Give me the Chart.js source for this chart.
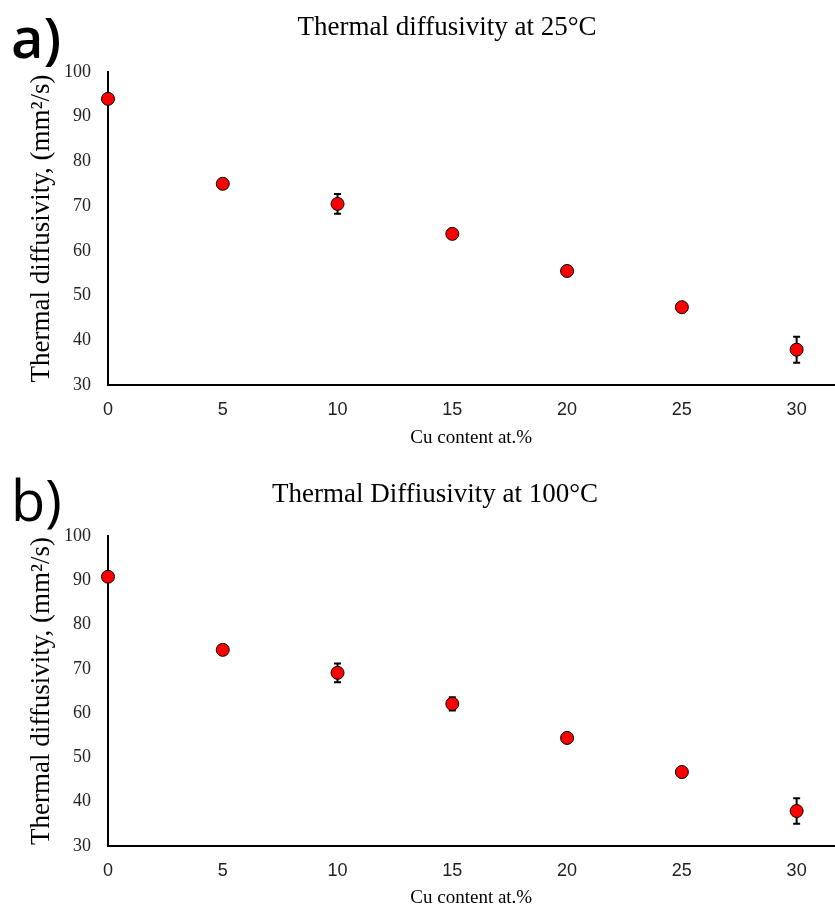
<!DOCTYPE html>
<html lang="en">
<head>
    <meta charset="UTF-8">
    <title>Thermal diffusivity</title>
    <style>
        body { margin: 0; background: #fff; }
        #wrap { position: relative; width: 835px; height: 910px; overflow: hidden; }
        canvas { position: absolute; left: 0; }
        .panel {
            position: absolute;
            left: 11px;
            font-family: "Open Sans", sans-serif;
            font-size: 56px;
            line-height: 1;
            color: #000;
        }
        .title {
            position: absolute;
            transform: translateX(-50%);
            white-space: nowrap;
            font-family: "Liberation Serif", serif;
            font-size: 27px;
            line-height: 32px;
            color: #000;
        }
    </style>
</head>
<body>
<div id="wrap">
    <canvas id="chartA" width="842" height="455" style="top:0"></canvas>
    <canvas id="chartB" width="842" height="455" style="top:455px"></canvas>
    <div class="panel" style="top:8px; font-weight:600">a)</div>
    <div class="panel" style="top:471px">b)</div>
    <div class="title" style="left:447px; top:10px">Thermal diffusivity at 25°C</div>
    <div class="title" style="left:435px; top:477px">Thermal Diffiusivity at 100°C</div>
</div>

<script src="https://cdn.jsdelivr.net/npm/chart.js"></script>
<script>
    // Cu content (at.%)
    const cuContent = [0, 5, 10, 15, 20, 25, 30];
    const xTicks = [0, 5, 10, 15, 20, 25, 30];

    // thermal diffusivity (mm2/s) and error bars
    const diffusivity25 = [94.0, 75.0, 70.5, 63.8, 55.5, 47.4, 37.9];
    const error25 = [0.4, 0.5, 2.2, 0.6, 0.5, 0.5, 2.9];
    const diffusivity100 = [90.8, 74.3, 69.1, 62.1, 54.4, 46.7, 37.9];
    const error100 = [0.4, 0.5, 2.1, 1.5, 0.5, 0.5, 2.9];

    // draws vertical error bars under the markers
    const errorBars = {
        id: 'errorBars',
        beforeDatasetsDraw(chart, args, opts) {
            const ctx = chart.ctx;
            const xs = chart.scales.x, ys = chart.scales.y;
            const ds = chart.data.datasets[0].data;
            ctx.save();
            ctx.strokeStyle = '#000';
            ctx.lineWidth = 2;
            ds.forEach((p, i) => {
                const e = opts.values[i];
                const px = xs.getPixelForValue(p.x);
                const top = ys.getPixelForValue(p.y + e);
                const bot = ys.getPixelForValue(p.y - e);
                ctx.beginPath();
                ctx.moveTo(px, top); ctx.lineTo(px, bot);
                ctx.moveTo(px - 3.5, top); ctx.lineTo(px + 3.5, top);
                ctx.moveTo(px - 3.5, bot); ctx.lineTo(px + 3.5, bot);
                ctx.stroke();
            });
            ctx.restore();
        }
    };

    function makeChart(id, values, errors, plotTop, xAxisHeight, xTitleBottom) {
        const ctx = document.getElementById(id).getContext('2d');
        return new Chart(ctx, {
            type: 'scatter',
            data: {
                datasets: [{
                    data: cuContent.map((x, i) => ({ x: x, y: values[i] })),
                    backgroundColor: '#ff0000',
                    borderColor: '#000',
                    borderWidth: 1,
                    pointRadius: 6.5,
                    pointHoverRadius: 6.5,
                    clip: false
                }]
            },
            options: {
                responsive: false,
                animation: false,
                layout: { padding: { top: plotTop, left: 0, right: 0, bottom: 0 } },
                plugins: {
                    legend: { display: false },
                    tooltip: { enabled: false },
                    errorBars: { values: errors }
                },
                scales: {
                    x: {
                        type: 'linear',
                        min: 0,
                        max: 31.65,
                        afterBuildTicks: s => { s.ticks = xTicks.map(v => ({ value: v })); },
                        afterFit: s => { s.height = xAxisHeight; },
                        grid: { drawOnChartArea: false, drawTicks: false },
                        border: { display: true, color: '#000', width: 2 },
                        ticks: {
                            padding: 14,
                            color: '#222',
                            font: { family: 'Liberation Sans', size: 18 }
                        },
                        title: {
                            display: true,
                            text: 'Cu content at.%',
                            color: '#000',
                            font: { family: 'Liberation Serif', size: 19 },
                            padding: { top: 0, bottom: xTitleBottom }
                        }
                    },
                    y: {
                        min: 30,
                        max: 100,
                        afterFit: s => { s.width = 108; },
                        grid: { drawOnChartArea: false, drawTicks: false },
                        border: { display: true, color: '#000', width: 2 },
                        ticks: {
                            stepSize: 10,
                            padding: 17,
                            color: '#222',
                            font: { family: 'Liberation Serif', size: 18 }
                        },
                        title: {
                            display: true,
                            text: 'Thermal diffusivity, (mm²/s)',
                            color: '#000',
                            font: { family: 'Liberation Serif', size: 27 },
                            padding: { top: 26, bottom: 0 }
                        }
                    }
                }
            },
            plugins: [errorBars]
        });
    }

    makeChart('chartA', diffusivity25, error25, 72, 70, 6);
    makeChart('chartB', diffusivity100, error100, 81, 64, 1);
</script>
</body>
</html>
